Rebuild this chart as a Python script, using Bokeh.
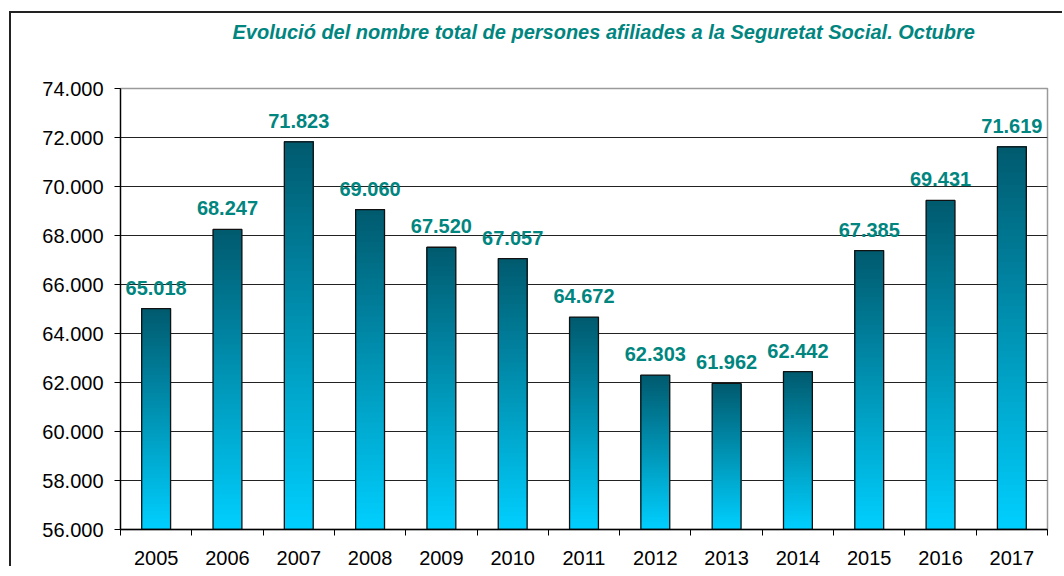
from bokeh.plotting import figure
from bokeh.models import FixedTicker, Range1d, Title
from bokeh.embed import file_html
from bokeh.resources import INLINE

years = ["2005", "2006", "2007", "2008", "2009", "2010", "2011",
         "2012", "2013", "2014", "2015", "2016", "2017"]
values = [65018, 68247, 71823, 69060, 67520, 67057, 64672,
          62303, 61962, 62442, 67385, 69431, 71619]
y_ticks = [56000, 58000, 60000, 62000, 64000, 66000, 68000, 70000, 72000, 74000]
title_text = "Evolució del nombre total de persones afiliades a la Seguretat Social. Octubre"

Y_MIN, Y_MAX = 56000, 74000
TEAL = "#00857f"
FONT = "Liberation Sans"


def fmt(v):
    return f"{v:,}".replace(",", ".")


p = figure(width=1053, height=555, output_backend="svg", toolbar_location=None,
           x_range=Range1d(0, len(years)), y_range=Range1d(Y_MIN, Y_MAX),
           min_border_left=109, min_border_right=17, min_border_top=75,
           min_border_bottom=39,
           styles={"margin-left": "11px", "margin-top": "13px", "vertical-align": "top",
                   "box-shadow": "-2px -2px 0px 0px #222222"})
p.background_fill_color = "white"
p.border_fill_color = "white"
p.outline_line_color = "#9a9a9a"
p.outline_line_width = 1.5

# gradient bars: overlapping layers from each bar's bottom colour up to its top colour
N = 60
top_c = (0x00, 0x5a, 0x6e)
bot_c = (0x00, 0xd0, 0xff)
xs, bs, ts, cs = [], [], [], []
for k in range(N):
    f = (k + 0.5) / N  # 0 bottom -> 1 top
    c = "#%02x%02x%02x" % tuple(int(round(bot_c[j] + (top_c[j] - bot_c[j]) * f)) for j in range(3))
    for i, v in enumerate(values):
        h = (v - Y_MIN) / N
        xs.append(i + 0.5)
        bs.append(Y_MIN + h * k)
        ts.append(v)
        cs.append(c)
p.vbar(x=xs, bottom=bs, top=ts, width=0.405, fill_color=cs, line_color=None)
centers = [i + 0.5 for i in range(len(years))]
p.vbar(x=centers, bottom=Y_MIN, top=values, width=0.405, fill_color=None,
       line_color="#111111", line_width=1.3)

# value labels
p.text(x=centers, y=values, text=[fmt(v) for v in values],
       text_align="center", text_baseline="middle", y_offset=-21,
       text_color=TEAL, text_font_size="20px", text_font_style="bold",
       text_font={"value": FONT})

# axes
p.yaxis.ticker = FixedTicker(ticks=y_ticks, minor_ticks=[])
p.yaxis.major_label_overrides = {t: fmt(t) for t in y_ticks}
p.yaxis.major_label_text_font = FONT
p.yaxis.major_label_text_font_size = "20px"
p.yaxis.major_label_text_color = "black"
p.yaxis.major_tick_out = 6
p.yaxis.major_tick_in = 0
p.yaxis.major_label_standoff = 11
p.yaxis.axis_line_color = "black"
p.yaxis.axis_line_width = 1.3
p.yaxis.major_tick_line_color = "black"

p.xaxis.ticker = FixedTicker(ticks=centers, minor_ticks=list(range(len(years) + 1)))
p.xaxis.major_label_overrides = {c: y for c, y in zip(centers, years)}
p.xaxis.major_label_text_font = FONT
p.xaxis.major_label_text_font_size = "20px"
p.xaxis.major_label_text_color = "black"
p.xaxis.major_tick_out = 0
p.xaxis.major_tick_in = 0
p.xaxis.minor_tick_out = 6
p.xaxis.minor_tick_in = 0
p.xaxis.minor_tick_line_color = "black"
p.xaxis.major_label_standoff = 15
p.xaxis.axis_line_color = "black"
p.xaxis.axis_line_width = 1.3

p.xgrid.grid_line_color = None
p.ygrid.ticker = FixedTicker(ticks=y_ticks)
p.ygrid.grid_line_color = "#222222"
p.ygrid.grid_line_width = 1

# spacer panel between frame and title, then the title itself
p.add_layout(Title(text=" ", text_font_size="10px", standoff=33), "above")
p.add_layout(Title(text=title_text, align="left", offset=112, standoff=0,
                   text_font=FONT, text_font_size="20px", text_font_style="bold italic",
                   text_color=TEAL), "above")

open("out.html", "w").write(file_html(p, INLINE))
